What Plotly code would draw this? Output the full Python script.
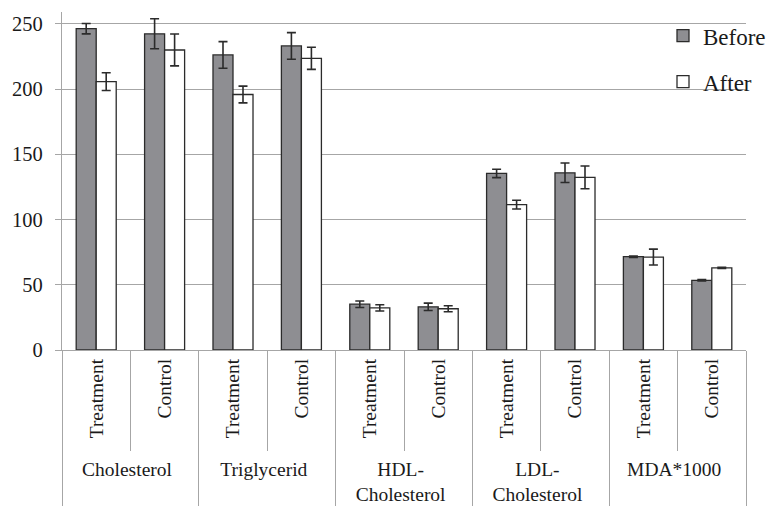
import plotly.graph_objects as go

groups = ["Cholesterol", "Cholesterol", "Triglycerid", "Triglycerid",
          "HDL-<br>Cholesterol", "HDL-<br>Cholesterol",
          "LDL-<br>Cholesterol", "LDL-<br>Cholesterol",
          "MDA*1000", "MDA*1000"]
subgroups = ["Treatment", "Control"] * 5

before = [246.2, 242.3, 226.1, 233.0, 35.1, 33.1, 135.3, 135.8, 71.5, 53.4]
before_err = [4.0, 11.5, 10.2, 10.2, 2.5, 2.8, 3.2, 7.5, 0.5, 0.5]
after = [205.7, 229.9, 195.8, 223.5, 32.3, 31.6, 111.4, 132.3, 71.2, 62.9]
after_err = [6.8, 12.2, 6.4, 8.5, 2.4, 2.3, 3.3, 8.7, 6.1, 0.5]

FONT = "Liberation Serif"
EDGE = "#2b2b2b"
GRID = "#a6a6a6"

fig = go.Figure()
fig.add_trace(go.Bar(
    name="Before", x=[groups, subgroups], y=before,
    marker=dict(color="#8e8e92", line=dict(color=EDGE, width=1.3)),
    error_y=dict(type="data", array=before_err, color=EDGE, thickness=1.6, width=4.5),
    legendgroup="a",
))
fig.add_trace(go.Bar(
    name="After", x=[groups, subgroups], y=after,
    marker=dict(color="#ffffff", line=dict(color=EDGE, width=1.3)),
    error_y=dict(type="data", array=after_err, color=EDGE, thickness=1.6, width=4.5),
    legendgroup="b",
))

fig.update_layout(
    width=771, height=508,
    margin=dict(l=62, r=25, t=12, b=158, autoexpand=False),
    paper_bgcolor="white", plot_bgcolor="white",
    barmode="group", bargap=0.415, bargroupgap=0,
    font=dict(family=FONT, size=20, color="#1a1a1a"),
    legend=dict(xref="container", yref="container", x=1.0, y=0.972,
                xanchor="right", yanchor="top",
                bgcolor="rgba(0,0,0,0)", font=dict(family=FONT, size=23),
                tracegroupgap=13, itemwidth=30),
    showlegend=True,
)
fig.update_yaxes(range=[0, 259], dtick=50, tick0=0, showgrid=True, gridcolor=GRID,
                 gridwidth=1.2, zeroline=False, showline=True, linecolor=GRID,
                 linewidth=1.2, ticks="outside", ticklen=6, tickcolor=GRID,
                 ticklabelstandoff=8,
                 tickfont=dict(family=FONT, size=20.5), automargin=False)
fig.update_xaxes(type="multicategory", showline=True, linecolor=GRID, linewidth=1.2,
                 ticks="outside", tickson="boundaries", ticklen=100, tickcolor=GRID,
                 tickwidth=1.2, tickangle=-90, showdividers=True,
                 dividercolor=GRID, dividerwidth=1.2,
                 tickfont=dict(family=FONT, size=19.5), automargin=False)

fig.write_html("out.html", config={"displayModeBar": False},
               post_script="document.body.style.margin='0';document.body.style.overflow='hidden';")
